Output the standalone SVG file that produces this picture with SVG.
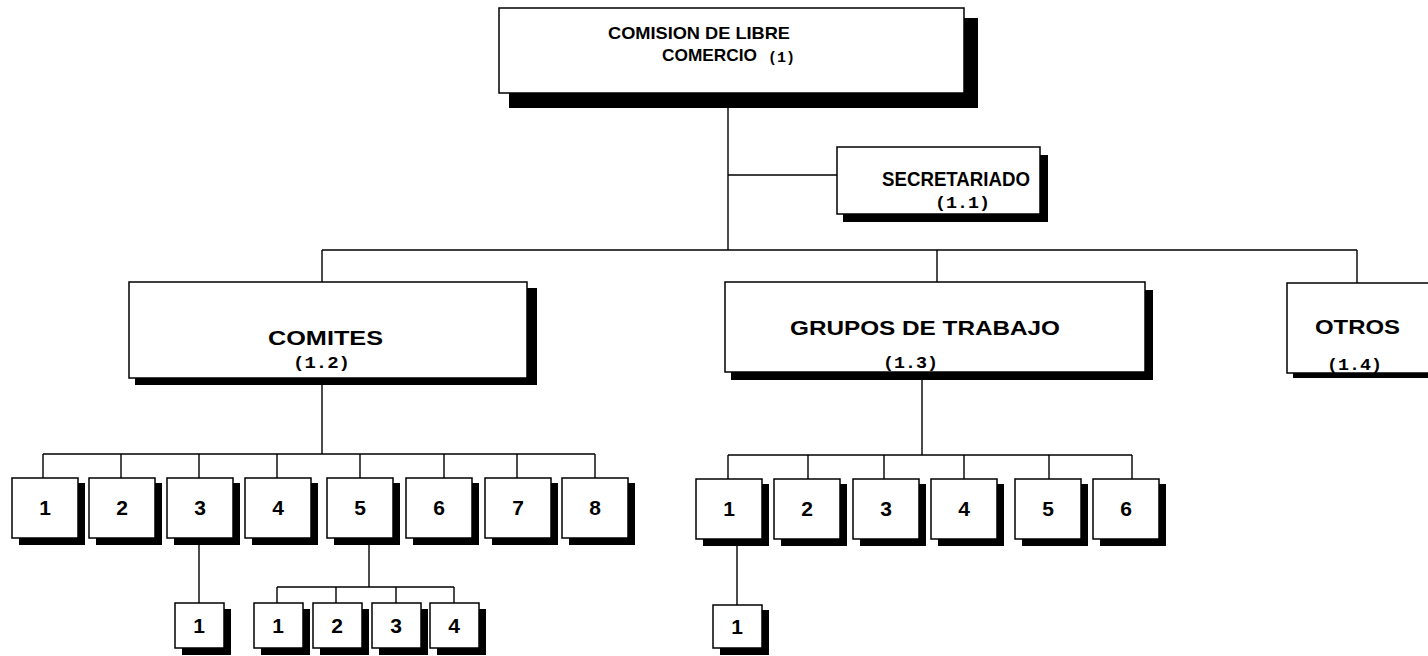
<svg xmlns="http://www.w3.org/2000/svg" width="1428" height="656" viewBox="0 0 1428 656">
<style>
.box{fill:#fff;stroke:#000;stroke-width:1.5}
.sh{fill:#000}
.ln{stroke:#000;stroke-width:1.4;fill:none}
.t{font-family:"Liberation Sans",Arial,sans-serif;font-weight:bold;fill:#000}
.m{font-family:"Liberation Mono","Courier New",monospace;font-weight:bold;fill:#000}
.n{font-family:"Liberation Sans",Arial,sans-serif;font-weight:bold;font-size:21px;fill:#000;text-anchor:middle}
</style>
<rect width="1428" height="656" fill="#fff"/>
<g id="connectors">
<path class="ln" d="M728 108V250M728 175H837M322 250H1357M322 250V282M937 250V282M1357 250V283"/>
<path class="ln" d="M322 385V454M43 454H595M43 454V478M121 454V478M199 454V478M277 454V478M360 454V478M444 454V478M517 454V478M595 454V478"/>
<path class="ln" d="M922 380V455M728 455H1132M728 455V479M808 455V479M884 455V479M964 455V479M1049 455V479M1132 455V479"/>
<path class="ln" d="M199 545V603M369 545V587M277 587H454M277 587V603M336 587V603M396 587V603M454 587V603M737 545V605"/>
</g>
<g id="n1">
<rect class="sh" x="509" y="18" width="469" height="90"/>
<rect class="box" x="499" y="8" width="465" height="85"/>
<text class="t" x="608" y="39" font-size="17" textLength="182" lengthAdjust="spacingAndGlyphs">COMISION DE LIBRE</text>
<text class="t" x="662" y="61" font-size="17" textLength="95" lengthAdjust="spacingAndGlyphs">COMERCIO</text>
<text class="m" x="768" y="62" font-size="15" textLength="27" lengthAdjust="spacingAndGlyphs">(1)</text>
</g>
<g id="n11">
<rect class="sh" x="843" y="155" width="205" height="67"/>
<rect class="box" x="837" y="147" width="203" height="67"/>
<text class="t" x="882" y="186" font-size="20" textLength="148" lengthAdjust="spacingAndGlyphs">SECRETARIADO</text>
<text class="m" x="935" y="208" font-size="17" textLength="55" lengthAdjust="spacingAndGlyphs">(1.1)</text>
</g>
<g id="n12">
<rect class="sh" x="135" y="288" width="402" height="97"/>
<rect class="box" x="129" y="282" width="398" height="96"/>
<text class="t" x="268" y="345" font-size="21" textLength="115" lengthAdjust="spacingAndGlyphs">COMITES</text>
<text class="m" x="293" y="368" font-size="17" textLength="57" lengthAdjust="spacingAndGlyphs">(1.2)</text>
</g>
<g id="n13">
<rect class="sh" x="731" y="290" width="422" height="90"/>
<rect class="box" x="725" y="282" width="420" height="90"/>
<text class="t" x="790" y="335" font-size="21" textLength="270" lengthAdjust="spacingAndGlyphs">GRUPOS DE TRABAJO</text>
<text class="m" x="883" y="368" font-size="17" textLength="55" lengthAdjust="spacingAndGlyphs">(1.3)</text>
</g>
<g id="n14">
<rect class="sh" x="1293" y="290" width="150" height="88"/>
<rect class="box" x="1287" y="283" width="150" height="90"/>
<text class="t" x="1315" y="334" font-size="21" textLength="85" lengthAdjust="spacingAndGlyphs">OTROS</text>
<text class="m" x="1327" y="370" font-size="17" textLength="55" lengthAdjust="spacingAndGlyphs">(1.4)</text>
</g>
<g id="c1"><rect class="sh" x="19" y="483" width="66" height="62"/><rect class="box" x="12" y="478" width="66" height="60"/><text class="n" x="45" y="515">1</text></g>
<g id="c2"><rect class="sh" x="96" y="483" width="66" height="62"/><rect class="box" x="89" y="478" width="66" height="60"/><text class="n" x="122" y="515">2</text></g>
<g id="c3"><rect class="sh" x="174" y="483" width="66" height="62"/><rect class="box" x="167" y="478" width="66" height="60"/><text class="n" x="200" y="515">3</text></g>
<g id="c4"><rect class="sh" x="252" y="483" width="66" height="62"/><rect class="box" x="245" y="478" width="66" height="60"/><text class="n" x="278" y="515">4</text></g>
<g id="c5"><rect class="sh" x="334" y="483" width="66" height="62"/><rect class="box" x="327" y="478" width="66" height="60"/><text class="n" x="360" y="515">5</text></g>
<g id="c6"><rect class="sh" x="413" y="483" width="66" height="62"/><rect class="box" x="406" y="478" width="66" height="60"/><text class="n" x="439" y="515">6</text></g>
<g id="c7"><rect class="sh" x="492" y="483" width="66" height="62"/><rect class="box" x="485" y="478" width="66" height="60"/><text class="n" x="518" y="515">7</text></g>
<g id="c8"><rect class="sh" x="569" y="483" width="66" height="62"/><rect class="box" x="562" y="478" width="66" height="60"/><text class="n" x="595" y="515">8</text></g>
<g id="g1"><rect class="sh" x="703" y="484" width="66" height="62"/><rect class="box" x="696" y="479" width="66" height="60"/><text class="n" x="729" y="516">1</text></g>
<g id="g2"><rect class="sh" x="781" y="484" width="66" height="62"/><rect class="box" x="774" y="479" width="66" height="60"/><text class="n" x="807" y="516">2</text></g>
<g id="g3"><rect class="sh" x="860" y="484" width="66" height="62"/><rect class="box" x="853" y="479" width="66" height="60"/><text class="n" x="886" y="516">3</text></g>
<g id="g4"><rect class="sh" x="938" y="484" width="66" height="62"/><rect class="box" x="931" y="479" width="66" height="60"/><text class="n" x="964" y="516">4</text></g>
<g id="g5"><rect class="sh" x="1022" y="484" width="66" height="62"/><rect class="box" x="1015" y="479" width="66" height="60"/><text class="n" x="1048" y="516">5</text></g>
<g id="g6"><rect class="sh" x="1100" y="484" width="66" height="62"/><rect class="box" x="1093" y="479" width="66" height="60"/><text class="n" x="1126" y="516">6</text></g>
<g id="c3-1"><rect class="sh" x="182" y="609" width="49" height="46"/><rect class="box" x="175" y="603" width="49" height="45"/><text class="n" x="199" y="633">1</text></g>
<g id="c5-1"><rect class="sh" x="261" y="609" width="49" height="46"/><rect class="box" x="254" y="603" width="49" height="45"/><text class="n" x="278" y="633">1</text></g>
<g id="c5-2"><rect class="sh" x="320" y="609" width="49" height="46"/><rect class="box" x="313" y="603" width="49" height="45"/><text class="n" x="337" y="633">2</text></g>
<g id="c5-3"><rect class="sh" x="379" y="609" width="49" height="46"/><rect class="box" x="372" y="603" width="49" height="45"/><text class="n" x="396" y="633">3</text></g>
<g id="c5-4"><rect class="sh" x="437" y="609" width="49" height="46"/><rect class="box" x="430" y="603" width="49" height="45"/><text class="n" x="454" y="633">4</text></g>
<g id="g1-1"><rect class="sh" x="720" y="610" width="49" height="45"/><rect class="box" x="713" y="605" width="49" height="43"/><text class="n" x="737" y="634">1</text></g>
</svg>
